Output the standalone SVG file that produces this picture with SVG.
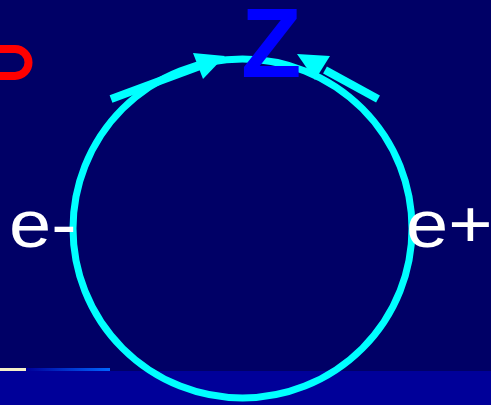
<svg xmlns="http://www.w3.org/2000/svg" width="491" height="405" viewBox="0 0 491 405">
  <defs>
    <linearGradient id="barGrad" x1="0" y1="0" x2="1" y2="0">
      <stop offset="0" stop-color="#000099"/>
      <stop offset="1" stop-color="#0066FF"/>
    </linearGradient>
    <style>
      .lbl { font-family: "Liberation Sans", Arial, sans-serif; fill: #FFFFFF; font-size: 66px; }
      .ring { fill: none; stroke: #00FFFF; stroke-width: 7; }
      .shaft { stroke: #00FFFF; stroke-width: 8; fill: none; }
      .head { fill: #00FFFF; }
    </style>
  </defs>
  <rect x="0" y="0" width="491" height="405" fill="#000066"/>
  <rect x="0" y="371" width="491" height="34" fill="#000099"/>
  <rect x="0" y="368" width="26" height="3" fill="#F5F0C8"/>
  <rect x="26" y="368" width="84" height="3" fill="url(#barGrad)"/>
  <path d="M -12 49 H 15 A 13.5 13.5 0 0 1 15 76 H -12" fill="none" stroke="#FF0000" stroke-width="8"/>
  <g id="loop">
    <circle class="ring" cx="242.5" cy="228.5" r="169.5"/>
  </g>
  <g id="connectors">
    <line class="shaft" x1="111" y1="99" x2="200" y2="66"/>
    <polygon class="head" points="193,53 203,79 225,56"/>
    <line class="shaft" x1="378" y1="99" x2="325" y2="70"/>
    <polygon class="head" points="330,56 315,80 297,54"/>
  </g>
  <g id="node-z">
    <text x="241" y="77" font-family="'Liberation Sans', Arial, sans-serif" font-weight="bold" font-size="99" fill="#0000FF">Z</text>
  </g>
  <g id="node-eminus">
    <text class="lbl" transform="translate(9,247) scale(1.15,1)">e-</text>
  </g>
  <g id="node-eplus">
    <text class="lbl" transform="translate(406,247) scale(1.15,1)">e+</text>
  </g>
</svg>
